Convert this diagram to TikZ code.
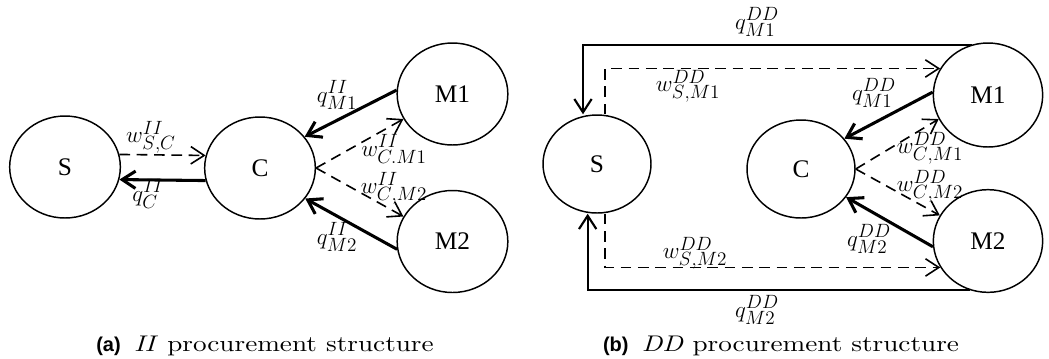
\documentclass[tikz,border=0pt]{standalone}
\usepackage{fontspec}
\newfontfamily\partyfont{Liberation Serif}
\newfontfamily\tagfont{Liberation Sans}
\newfontfamily\capfont{lmroman10-regular.otf}[ItalicFont=lmroman10-italic.otf, FakeStretch=1.2]
\usetikzlibrary{arrows.meta,shapes.geometric}

\tikzset{
  party/.style={ellipse, draw, line width=1.1pt, inner sep=0pt,
    minimum width=83pt, minimum height=76.5pt,
    font=\partyfont\fontsize{19}{21}\selectfont},
  wline/.style={line width=1.2pt, dash pattern=on 8pt off 5pt,
    -{Straight Barb[length=10pt,width=13pt]}},
  qline/.style={line width=2.3pt, -{Straight Barb[length=10pt,width=13pt]}},
  qouter/.style={line width=1.6pt, -{Straight Barb[length=10pt,width=13pt]}},
  lbl/.style={inner sep=0pt, font=\fontsize{19}{21}\selectfont},
  capt/.style={inner sep=0pt, font=\capfont\fontsize{17}{20}\selectfont}
}

\begin{document}
\begin{tikzpicture}[x=0.75pt,y=-0.75pt]
\useasboundingbox (0,0) rectangle (1049,358);
% (a) II structure
\node[party] (sa) at (65,167) {S};
\node[party] (ca) at (260,168) {C};
\node[party] (m1a) at (452.5,94) {M1};
\node[party] (m2a) at (452.5,241.5) {M2};
\draw[wline] (sa.13) -- (ca.167);
\draw[qline] (ca.193) -- (sa.347);
\draw[qline] (m1a.176) -- (ca.35);
\draw[wline] (ca.0) -- (m1a.207);
\draw[wline] (ca.0) -- (m2a.153);
\draw[qline] (m2a.188) -- (ca.326);
\node[lbl] (wsca) at (151,137) {$w^{II}_{S{,}C}$};
\node[lbl] (qca) at (148,194) {$q^{II}_{C}$};
\node[lbl] (qm1a) at (337,95) {$q^{II}_{M1}$};
\node[lbl] (wcm1a) at (394,149) {$w^{II}_{C.M1}$};
\node[lbl] (wcm2a) at (394,188) {$w^{II}_{C{,}M2}$};
\node[lbl] (qm2a) at (337,237) {$q^{II}_{M2}$};
\node[capt] (capa) at (265,346) {{\tagfont\bfseries\fontsize{15}{18}\selectfont (a)}\hspace{10pt}\textit{II} procurement structure};
% (b) DD structure
\node[party, minimum width=81pt, minimum height=73.5pt] (sb) at (597,164) {S};
\node[party, minimum width=81pt, minimum height=73.5pt] (cb) at (801,169) {C};
\node[party, minimum width=82pt, minimum height=78pt] (m1b) at (988,95) {M1};
\node[party, minimum width=82pt, minimum height=77pt] (m2b) at (988,241) {M2};
\draw[qouter] (m1b.108) -| ([xshift=-10.5pt]sb.north);
\draw[wline] ([xshift=6pt]sb.north) |- (m1b.151);
\draw[wline] ([xshift=6pt]sb.south) |- (m2b.209);
\draw[qouter] (m2b.250) -| ([xshift=-7pt]sb.south);
\draw[qline] (m1b.177) -- (cb.35);
\draw[wline] (cb.0) -- (m1b.206);
\draw[wline] (cb.0) -- (m2b.152);
\draw[qline] (m2b.186) -- (cb.328);
\node[lbl] (qm1o) at (757,22) {$q^{DD}_{M1}$};
\node[lbl] (wsm1) at (688,86) {$w^{DD}_{S{,}M1}$};
\node[lbl] (qm1b) at (874,93) {$q^{DD}_{M1}$};
\node[lbl] (wcm1b) at (930,148) {$w^{DD}_{C{,}M1}$};
\node[lbl] (wcm2b) at (930,186) {$w^{DD}_{C{,}M2}$};
\node[lbl] (qm2b) at (869,239) {$q^{DD}_{M2}$};
\node[lbl] (wsm2) at (695,253) {$w^{DD}_{S{,}M2}$};
\node[lbl] (qm2o) at (757,310) {$q^{DD}_{M2}$};
\node[capt] (capb) at (781,346) {{\tagfont\bfseries\fontsize{15}{18}\selectfont (b)}\hspace{10pt}\textit{DD} procurement structure};
\end{tikzpicture}
\end{document}
